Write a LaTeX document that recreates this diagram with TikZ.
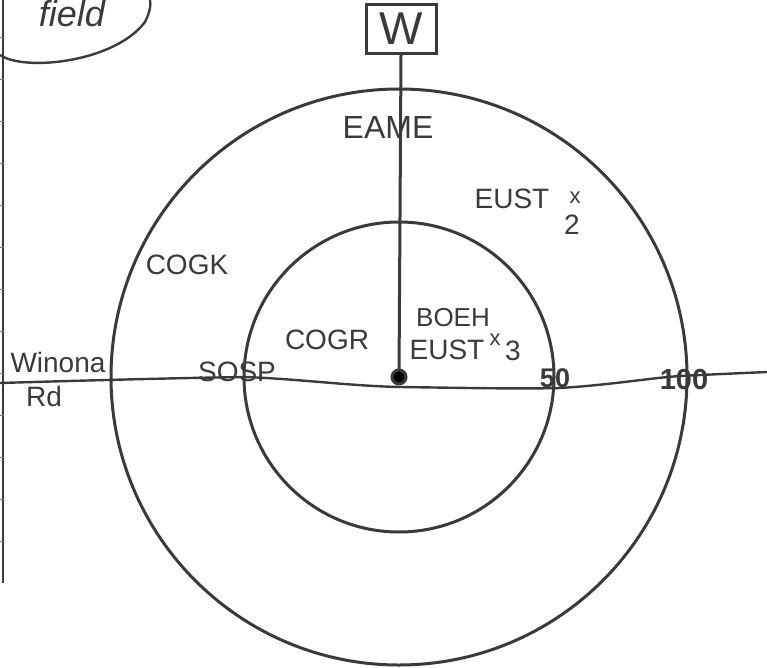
\documentclass[tikz,border=0pt]{standalone}
\usepackage{fontspec}
\setmainfont{Liberation Sans}
\definecolor{ink}{HTML}{3A3A3A}
\begin{document}
\begin{tikzpicture}[x=1pt,y=-1pt,
  ink/.style={draw=ink, line width=3pt},
  hand/.style={text=ink, font=\fontsize{28}{30}\selectfont, inner sep=0pt},
  small/.style={text=ink, font=\fontsize{22}{24}\selectfont, inner sep=0pt},
  bold/.style={text=ink, font=\fontsize{27}{29}\selectfont\bfseries, inner sep=0pt},
  wbox/.style={draw=ink, line width=3pt, minimum width=70pt, minimum height=49pt, inner sep=0pt, text=ink, font=\fontsize{46}{48}\selectfont}]
\useasboundingbox (0,0) rectangle (767,668);
\fill[white] (0,0) rectangle (767,668);
% left border with ticks
\draw[ink, line width=2.4pt] (3,0) -- (3,583);
\foreach \t in {37,79,121,163,205,247,289,331,373,415,457,499,541}
  \draw[ink!70, line width=0.8pt] (0,\t) -- (4,\t);
% field bubble
\draw[ink, line width=2.4pt] (0,55) .. controls (25,72) and (115,62) .. (145,22) .. controls (150,12) and (151,5) .. (150,0);
\node[hand, font=\fontsize{36}{38}\selectfont\itshape, anchor=base] (field) at (72,27) {field};
% circles
\coordinate (c) at (399,377);
\draw[ink] (c) circle (288pt);
\draw[ink] (c) circle (155pt);
% road
\draw[ink, line width=2.4pt] (0,383) .. controls (100,380) and (180,378) .. (245,377)
  .. controls (300,379) and (350,386) .. (400,387)
  .. controls (470,388) and (520,389) .. (560,388)
  .. controls (610,385) and (650,378) .. (680,376)
  .. controls (720,374) and (745,373) .. (767,372);
% W box and stem
\node[wbox] (w) at (401,29) {W};
\draw[ink] (w.south) -- (c);
\fill[ink] (c) circle (7pt);
% labels
\node[hand, font=\fontsize{32}{34}\selectfont] (eame) at (388,127) {EAME};
\node[hand] (eust2) at (512,199) {EUST};
\node[small] (x2) at (575,198) {x};
\node[hand] (two) at (572,225) {2};
\node[hand] (cogk) at (187,265) {COGK};
\node[hand] (cogr) at (327,340) {COGR};
\node[hand] (sosp) at (237,372) {SOSP};
\node[hand, font=\fontsize{26}{28}\selectfont] (boeh) at (453,318) {BOEH};
\node[hand] (eust3) at (447,350) {EUST};
\node[small] (x3) at (495,340) {x};
\node[hand] (three) at (513,351) {3};
\node[bold] (fifty) at (555,378) {50};
\node[bold, font=\fontsize{29}{31}\selectfont\bfseries] (hundred) at (684,380) {100};
\node[hand] (winona) at (58,362) {Winona};
\node[hand] (rd) at (44,396) {Rd};
\end{tikzpicture}
\end{document}
